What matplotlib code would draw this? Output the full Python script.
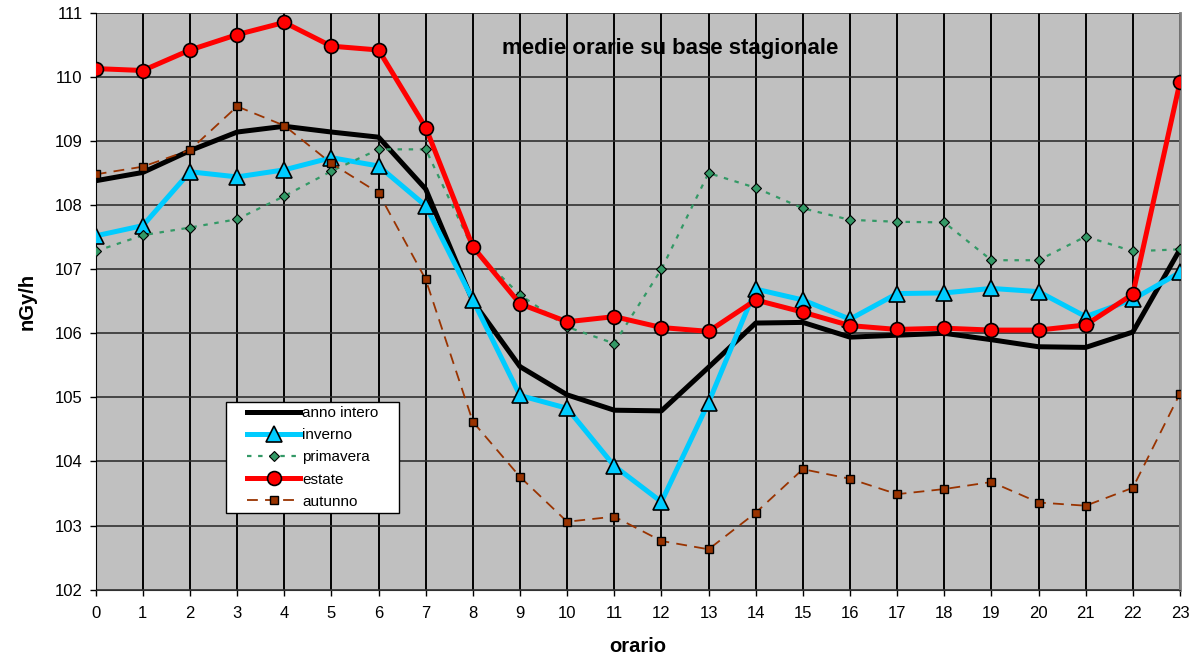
import matplotlib
matplotlib.use("Agg")
import matplotlib.pyplot as plt
from matplotlib.patches import Rectangle

plt.rcParams['font.family'] = ['Liberation Sans', 'DejaVu Sans']

hours = list(range(24))
anno_intero = [108.38, 108.51, 108.85, 109.14, 109.23, 109.14, 109.06, 108.25, 106.50, 105.48,
               105.04, 104.80, 104.79, 105.47, 106.16, 106.17, 105.94, 105.97, 106.00, 105.90,
               105.79, 105.78, 106.02, 107.31]
inverno = [107.52, 107.68, 108.52, 108.44, 108.55, 108.74, 108.61, 107.99, 106.52, 105.03,
           104.83, 103.93, 103.37, 104.92, 106.69, 106.52, 106.22, 106.62, 106.63, 106.70,
           106.65, 106.26, 106.53, 106.95]
primavera = [107.28, 107.53, 107.65, 107.78, 108.14, 108.53, 108.87, 108.87, 107.32, 106.60,
             106.10, 105.84, 107.00, 108.50, 108.27, 107.95, 107.77, 107.74, 107.73, 107.14,
             107.14, 107.51, 107.28, 107.31]
estate = [110.13, 110.10, 110.42, 110.66, 110.85, 110.48, 110.42, 109.21, 107.35, 106.46,
          106.18, 106.26, 106.09, 106.03, 106.52, 106.33, 106.12, 106.06, 106.08, 106.05,
          106.05, 106.13, 106.61, 109.92]
autunno = [108.48, 108.60, 108.86, 109.54, 109.24, 108.65, 108.19, 106.84, 104.62, 103.76,
           103.06, 103.14, 102.76, 102.63, 103.20, 103.88, 103.73, 103.49, 103.57, 103.68,
           103.36, 103.31, 103.59, 105.06]
y_ticks = [102, 103, 104, 105, 106, 107, 108, 109, 110, 111]

fig = plt.figure(figsize=(12.01, 6.61), dpi=100)
ax = fig.add_axes([0.0797, 0.1079, 0.9028, 0.8727])
ax.set_facecolor('#C0C0C0')

ax.plot(hours, anno_intero, color='black', lw=3.6, label='anno intero', zorder=3)
ax.plot(hours, inverno, color='#00CCFF', lw=3.6, marker='^', markersize=11,
        markerfacecolor='#00CCFF', markeredgecolor='black', markeredgewidth=1.2,
        label='inverno', zorder=4)
ax.plot(hours, primavera, color='#339966', lw=1.6, ls=(0, (2, 3)), marker='D', markersize=5.5,
        markerfacecolor='#339966', markeredgecolor='black', markeredgewidth=0.8,
        label='primavera', zorder=5)
ax.plot(hours, estate, color='#FF0000', lw=3.6, marker='o', markersize=10,
        markerfacecolor='#FF0000', markeredgecolor='black', markeredgewidth=1.2,
        label='estate', zorder=6)
ax.plot(hours, autunno, color='#993300', lw=1.3, ls=(0, (6, 4)), marker='s', markersize=6,
        markerfacecolor='#993300', markeredgecolor='black', markeredgewidth=1.0,
        label='autunno', zorder=7)

ax.set_xlim(0, 23)
ax.set_ylim(102, 111)
ax.set_xticks(hours)
ax.set_yticks(y_ticks)
ax.set_xticklabels([str(h) for h in hours])
ax.set_yticklabels([str(v) for v in y_ticks])

for h in hours:
    ax.axvline(h, color='black', lw=1.4, zorder=1)
for v in y_ticks:
    ax.axhline(v, color='#303030', lw=1.2, zorder=1)

ax.spines['top'].set_visible(False)
ax.spines['right'].set_color('#808080')
ax.spines['right'].set_linewidth(2)
ax.spines['left'].set_color('black')
ax.spines['bottom'].set_color('#303030')

ax.tick_params(axis='both', direction='out', length=4.5, width=1, labelsize=12, colors='black')
ax.tick_params(axis='y', pad=5)
ax.tick_params(axis='x', pad=7)

ax.set_xlabel('orario', fontsize=14.5, fontweight='bold', labelpad=12)
ax.set_ylabel('nGy/h', fontsize=14.5, fontweight='bold', labelpad=13)

ax.text(0.53, 0.939, 'medie orarie su base stagionale', transform=ax.transAxes,
        ha='center', va='center', fontsize=16, fontweight='bold', zorder=10)

# legend frame
frame = Rectangle((0.1202, 0.1335), 0.2797 - 0.1202, 0.326 - 0.1335, transform=ax.transAxes,
                  facecolor='white', edgecolor='black', lw=1.0, zorder=19)
ax.add_patch(frame)

leg = ax.legend(loc='upper left', bbox_to_anchor=(0.1395, 0.318), borderaxespad=0,
                fontsize=11, handlelength=3.5, handletextpad=0.13, labelspacing=0.53,
                frameon=False, borderpad=0)
leg.set_zorder(20)

fig.savefig('out.png', dpi=100)
